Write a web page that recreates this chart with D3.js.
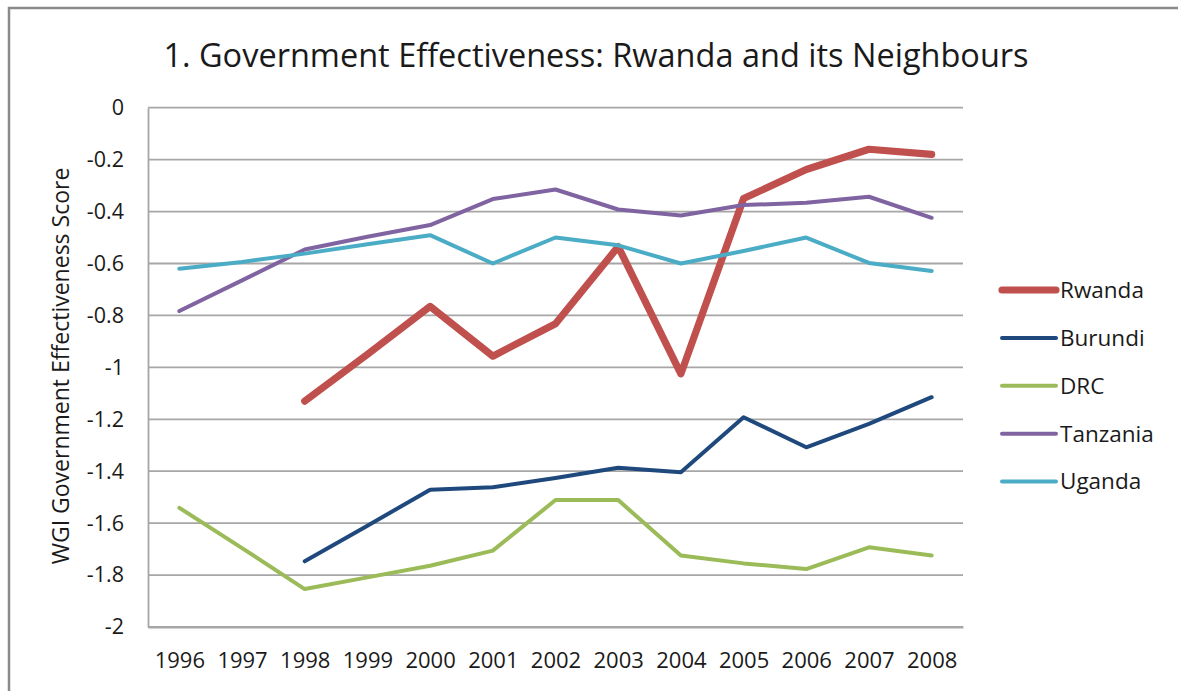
<!DOCTYPE html>
<html>
<head>
<meta charset="utf-8">
<script src="https://cdn.jsdelivr.net/npm/d3@7"></script>
<style>
  html, body { margin: 0; padding: 0; background: #fff; }
  svg text { font-family: "Open Sans", "Noto Sans", sans-serif; fill: #1a1a1a; }
</style>
</head>
<body>
<svg id="chart" width="1178" height="691"></svg>
<script>
// Worldwide Governance Indicators: Government Effectiveness score, 1996-2008
const years = [1996, 1997, 1998, 1999, 2000, 2001, 2002, 2003, 2004, 2005, 2006, 2007, 2008];
const rwanda   = [null, null, -1.13, -0.95, -0.765, -0.957, -0.832, -0.535, -1.025, -0.35, -0.238, -0.16, -0.18];
const burundi  = [null, null, -1.747, -1.61, -1.471, -1.462, -1.426, -1.387, -1.404, -1.192, -1.308, -1.218, -1.115];
const drc      = [-1.541, -1.696, -1.854, -1.809, -1.764, -1.706, -1.511, -1.511, -1.725, -1.755, -1.777, -1.693, -1.725];
const tanzania = [-0.783, -0.665, -0.546, -0.497, -0.452, -0.352, -0.315, -0.392, -0.415, -0.375, -0.366, -0.343, -0.424];
const uganda   = [-0.62, -0.594, -0.562, -0.526, -0.491, -0.6, -0.5, -0.53, -0.6, -0.552, -0.5, -0.598, -0.629];
const yTicks = [0, -0.2, -0.4, -0.6, -0.8, -1, -1.2, -1.4, -1.6, -1.8, -2];

const seriesNames = ["Rwanda", "Burundi", "DRC", "Tanzania", "Uganda"];
const seriesValues = [rwanda, burundi, drc, tanzania, uganda];
const seriesColors = ["#C0504D", "#1F497D", "#9BBB59", "#8064A2", "#4BACC6"];
const seriesWidths = [7.2, 4, 4, 4, 4];

const svg = d3.select("#chart");
const plot = { left: 148, right: 963, top: 107.7, bottom: 627 };

// Outer chart frame (top and left edges)
svg.append("path")
  .attr("d", `M9,691 L9,8 L1178,8`)
  .attr("fill", "none")
  .attr("stroke", "#8a8a8a")
  .attr("stroke-width", 2.5);

const x = d3.scalePoint().domain(years).range([plot.left, plot.right]).padding(0.5);
const y = d3.scaleLinear().domain([-2, 0]).range([plot.bottom, plot.top]);

// Horizontal gridlines
svg.append("g")
  .selectAll("line")
  .data(yTicks)
  .join("line")
  .attr("x1", plot.left).attr("x2", plot.right)
  .attr("y1", d => y(d)).attr("y2", d => y(d))
  .attr("stroke", "#a6a6a6")
  .attr("stroke-width", 1.8);

// Y axis (plain hyphen for negative numbers)
const yAxis = svg.append("g")
  .attr("transform", `translate(${plot.left},0)`)
  .call(d3.axisLeft(y).tickValues(yTicks).tickSize(0).tickPadding(24)
    .tickFormat(d => String(+d.toFixed(1))));
yAxis.select(".domain").attr("stroke", "#a6a6a6").attr("stroke-width", 1.8);
yAxis.selectAll("text")
  .attr("font-size", 21.5)
  .attr("font-family", "Open Sans")
  .attr("fill", "#1a1a1a");

// X axis
const xAxis = svg.append("g")
  .attr("transform", `translate(0,${plot.bottom})`)
  .call(d3.axisBottom(x).tickSize(0).tickPadding(25));
xAxis.select(".domain").attr("stroke", "#a6a6a6").attr("stroke-width", 1.8);
xAxis.selectAll("text")
  .attr("font-size", 22)
  .attr("font-family", "Open Sans")
  .attr("fill", "#1a1a1a");

// Series lines
const line = d3.line()
  .defined(d => d.v !== null)
  .x(d => x(d.year))
  .y(d => y(d.v));

seriesNames.forEach((name, i) => {
  const pts = years.map((yr, j) => ({ year: yr, v: seriesValues[i][j] }));
  svg.append("path")
    .datum(pts)
    .attr("fill", "none")
    .attr("stroke", seriesColors[i])
    .attr("stroke-width", seriesWidths[i])
    .attr("stroke-linejoin", "round")
    .attr("stroke-linecap", "round")
    .attr("d", line);
});

// Legend
const legend = svg.append("g");
seriesNames.forEach((name, i) => {
  const ly = 290 + i * 47.9;
  legend.append("line")
    .attr("x1", 1002).attr("x2", 1056)
    .attr("y1", ly).attr("y2", ly)
    .attr("stroke", seriesColors[i])
    .attr("stroke-width", seriesWidths[i])
    .attr("stroke-linecap", "round");
  legend.append("text")
    .attr("x", 1060).attr("y", ly)
    .attr("dy", "0.35em")
    .attr("font-size", 22.5)
    .text(name);
});

// Title
svg.append("text")
  .attr("x", 596).attr("y", 67)
  .attr("text-anchor", "middle")
  .attr("font-size", 32.5)
  .text("1. Government Effectiveness: Rwanda and its Neighbours");

// Y axis title
svg.append("text")
  .attr("transform", `translate(69,${366}) rotate(-90)`)
  .attr("text-anchor", "middle")
  .attr("font-size", 23)
  .text("WGI Government Effectiveness Score");
</script>
</body>
</html>
